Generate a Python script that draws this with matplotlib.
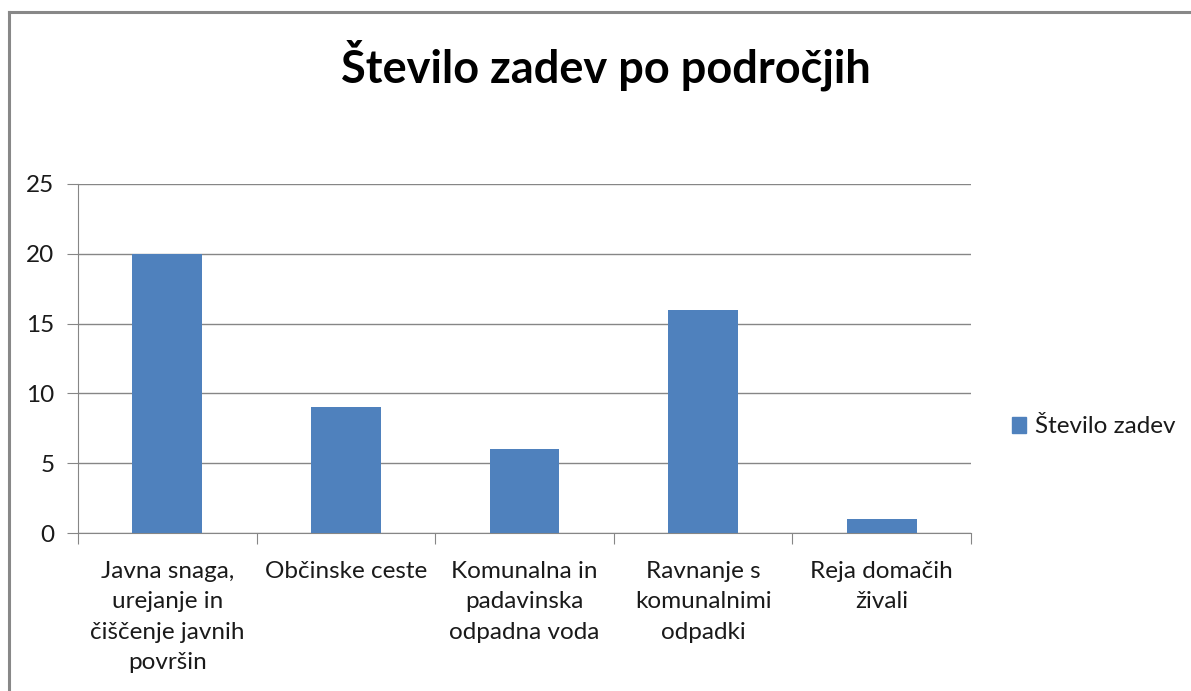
import matplotlib
matplotlib.use("Agg")
import matplotlib.pyplot as plt
from matplotlib.lines import Line2D
from matplotlib.patches import Patch

categories = ["Javna snaga,\nurejanje in\nčiščenje javnih\npovršin",
              "Občinske ceste",
              "Komunalna in\npadavinska\nodpadna voda",
              "Ravnanje s\nkomunalnimi\nodpadki",
              "Reja domačih\nživali"]
values = [20, 9, 6, 16, 1]
series_name = "Število zadev"
title = "Število zadev po področjih"
yticks = [0, 5, 10, 15, 20, 25]

W, H = 1191, 691
fig = plt.figure(figsize=(W/100, H/100), dpi=100)
plt.rcParams['font.family'] = ['Lato', 'DejaVu Sans']

ax = fig.add_axes([78/W, 1-533/H, (971-78)/W, (533-184)/H])
x = list(range(len(values)))
ax.bar(x, values, width=0.39, color="#4F81BD", zorder=3)
ax.set_xlim(-0.5, len(values)-0.5)
ax.set_ylim(0, 25)
ax.set_yticks(yticks)
ax.set_yticklabels([str(v) for v in yticks], fontsize=17.5, color="#1a1a1a")
ax.yaxis.grid(True, color="#868686", linewidth=1)
ax.set_axisbelow(True)
for s in ["top", "right"]:
    ax.spines[s].set_visible(False)
for s in ["left", "bottom"]:
    ax.spines[s].set_color("#868686")
ax.tick_params(axis="y", length=8, color="#868686", pad=9)
ax.set_xticks([i - 0.5 for i in range(len(values)+1)])
ax.set_xticklabels([])
ax.set_xticks(x, minor=True)
ax.set_xticklabels(categories, minor=True, fontsize=17.5, color="#1a1a1a", linespacing=1.56, va="top")
ax.tick_params(axis="x", which="minor", length=0, pad=20)
ax.tick_params(axis="x", which="major", length=8, color="#868686")

fig.text(606/W, 1-65/H, title, ha="center", va="center", fontsize=32.5, fontweight="bold", color="#000000")

leg = fig.legend(handles=[Patch(color="#4F81BD", label=series_name)], loc="center left",
                 bbox_to_anchor=(990/W, 1-427/H), frameon=False, fontsize=17.5,
                 handlelength=0.6, handleheight=0.6, handletextpad=0.35)
for t in leg.get_texts():
    t.set_color("#1a1a1a")

# frame
fig.add_artist(Line2D([9/W, 1], [1-12/H, 1-12/H], color="#888888", linewidth=2.2, transform=fig.transFigure))
fig.add_artist(Line2D([9/W, 9/W], [0, 1-12/H], color="#888888", linewidth=2.2, transform=fig.transFigure))

fig.savefig("out.png", dpi=100)
